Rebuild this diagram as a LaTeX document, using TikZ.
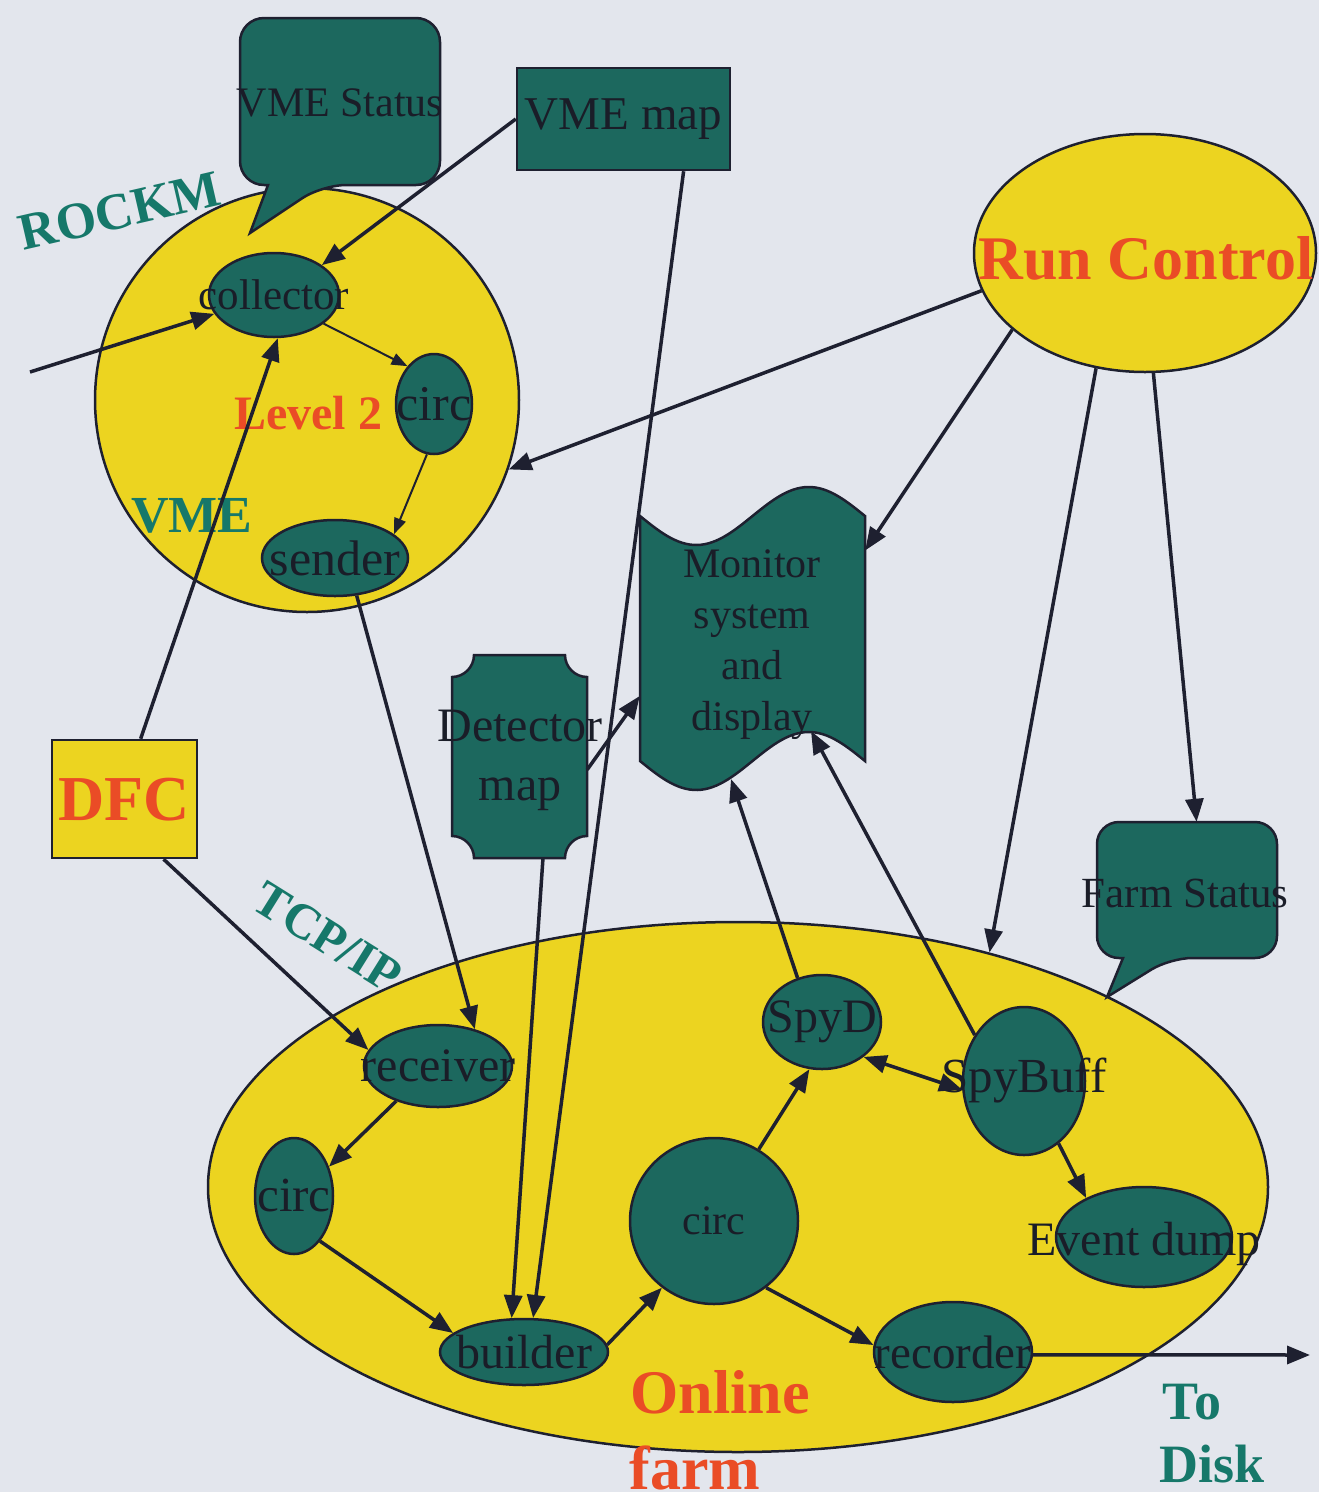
\documentclass[tikz,border=0pt]{standalone}
\usepackage{fontspec}
\setmainfont{Liberation Serif}
\usetikzlibrary{arrows.meta,shapes.geometric,calc}
\definecolor{bg}{HTML}{E3E6ED}
\definecolor{yel}{HTML}{ECD420}
\definecolor{tealf}{HTML}{1C685E}
\definecolor{ink}{HTML}{1E2030}
\definecolor{redt}{HTML}{EA4C26}
\definecolor{tealt}{HTML}{16786A}
\definecolor{txt}{HTML}{1A1D28}
\newcommand{\myfs}[1]{\fontsize{#1}{#1}\selectfont}
\begin{document}
\begin{tikzpicture}[x=1pt,y=-1pt,
  yelnode/.style={ellipse,draw=ink,line width=2.5pt,fill=yel,inner sep=0pt},
  tnode/.style={ellipse,draw=ink,line width=2.5pt,fill=tealf,inner sep=0pt},
  tshape/.style={draw=ink,line width=2.5pt,fill=tealf},
  lbl/.style={text=txt,inner sep=0pt},
  redlbl/.style={text=redt,inner sep=0pt,font=\bfseries},
  teallbl/.style={text=tealt,inner sep=0pt,font=\bfseries},
  anchorbox/.style={rectangle,inner sep=0pt,draw=none},
  conn/.style={draw=ink,line width=3.5pt,-{Triangle[length=23pt,width=18pt]}},
  dbl/.style={draw=ink,line width=3.5pt,{Triangle[length=23pt,width=18pt]}-{Triangle[length=23pt,width=18pt]}},
  thinconn/.style={draw=ink,line width=2pt,-{Triangle[length=16pt,width=12pt]}}
]
\useasboundingbox (0,0) rectangle (1319,1492);
\fill[bg] (0,0) rectangle (1319,1492);

% big yellow containers
\node[yelnode,minimum width=424pt,minimum height=424pt] (level2) at (307,400) {};
\node[yelnode,minimum width=1060pt,minimum height=530pt] (farm) at (738,1187) {};
\node[yelnode,minimum width=342pt,minimum height=238pt] (runctl) at (1145,253) {};
\node[redlbl,font=\bfseries\myfs{62}] (runctltxt) at (1146,258) {Run Control};

% DFC
\node[rectangle,draw=ink,line width=2.5pt,fill=yel,inner sep=0pt,minimum width=145pt,minimum height=118pt] (dfc) at (124.5,799) {};
\node[redlbl,font=\bfseries\myfs{64}] (dfctxt) at (124,800) {DFC};

% VME Status callout
\draw[tshape,rounded corners=24pt] (240,100) -- (240,18) -- (440,18) -- (440,185) -- (322,185) [sharp corners] -- (250,233) -- (268,185) [rounded corners=24pt] -- (240,185) -- cycle;
\node[anchorbox,minimum width=200pt,minimum height=167pt] (vmestatus) at (340,101.5) {};
\node[lbl,font=\myfs{42}] (vmestatustxt) at (340,103) {VME Status};

% Farm Status callout
\draw[tshape,rounded corners=22pt] (1097,890) -- (1097,822) -- (1277,822) -- (1277,958) -- (1170,958) [sharp corners] -- (1107,997) -- (1123,958) [rounded corners=22pt] -- (1097,958) -- cycle;
\node[anchorbox,minimum width=180pt,minimum height=136pt] (farmstatus) at (1187,890) {};
\node[lbl,font=\myfs{43}] (farmstatustxt) at (1185,893) {Farm Status};

% VME map
\node[rectangle,tshape,inner sep=0pt,minimum width=213pt,minimum height=102pt,label={[lbl,font=\myfs{47}]center:VME map}] (vmemap) at (623.5,119) {};

% Detector map (concave corners)
\draw[tshape] (474,655) -- (565,655) .. controls (565,667) and (575,677) .. (587,677)
  -- (587,836) .. controls (575,836) and (565,846) .. (565,858)
  -- (474,858) .. controls (474,846) and (464,836) .. (452,836)
  -- (452,677) .. controls (464,677) and (474,667) .. (474,655) -- cycle;
\node[anchorbox,minimum width=135pt,minimum height=203pt] (detector) at (519.5,756.5) {};
\node[lbl,align=center,font=\fontsize{48}{59}\selectfont] (detectortxt) at (520,760) {Detector\\map};

% Monitor system and display (punched tape)
\draw[tshape] plot[domain=640:865,samples=60] (\x,{516+29*sin(1.6*(\x-640))})
  -- plot[domain=865:640,samples=60] (\x,{761+29*sin(1.6*(\x-640))}) -- cycle;
\node[anchorbox,minimum width=225pt,minimum height=245pt] (monitor) at (752.5,638.5) {};
\node[lbl,align=center,font=\fontsize{42}{51}\selectfont] (monitortxt) at (752,645) {Monitor\\system\\and\\display};
\coordinate (monspyd) at (731,779);
\coordinate (monspybuff) at (811,731);

% Level 2 inner nodes
\node[tnode,minimum width=130pt,minimum height=84pt,label={[lbl,font=\myfs{43}]center:collector}] (collector) at (274,295) {};
\node[tnode,minimum width=76pt,minimum height=100pt,label={[lbl,font=\myfs{50}]center:circ}] (circA) at (434,404) {};
\node[tnode,minimum width=146pt,minimum height=76pt,label={[lbl,font=\myfs{50}]center:sender}] (sender) at (335,558) {};

% Online farm inner nodes
\node[tnode,minimum width=148pt,minimum height=82pt,label={[lbl,font=\myfs{48}]center:receiver}] (receiver) at (438,1066) {};
\node[tnode,minimum width=78pt,minimum height=116pt,label={[lbl,font=\myfs{49}]center:circ}] (circB) at (294,1196) {};
\node[tnode,minimum width=168pt,minimum height=66pt,label={[lbl,font=\myfs{48}]center:builder}] (builder) at (524,1352) {};
\node[tnode,minimum width=168pt,minimum height=166pt,label={[lbl,font=\myfs{42}]center:circ}] (bigcirc) at (714,1221) {};
\node[tnode,minimum width=118pt,minimum height=94pt,label={[lbl,font=\myfs{48}]center:SpyD}] (spyd) at (822,1022) {};
\node[tnode,minimum width=122pt,minimum height=148pt,label={[lbl,font=\myfs{49}]center:SpyBuff}] (spybuff) at (1024,1081) {};
\node[tnode,minimum width=176pt,minimum height=100pt,label={[lbl,font=\myfs{48},yshift=-7pt]center:Event dump}] (eventdump) at (1144,1237) {};
\node[tnode,minimum width=158pt,minimum height=100pt,label={[lbl,font=\myfs{47}]center:recorder}] (recorder) at (953,1352) {};

% free labels
\node[redlbl,font=\bfseries\myfs{48}] (level2txt) at (308,413) {Level 2};
\node[teallbl,font=\bfseries\myfs{52}] (vmetxt) at (192,516) {VME};
\node[teallbl,font=\bfseries\myfs{52},rotate=13] (rockm) at (120,211) {ROCKM};
\node[teallbl,font=\bfseries\myfs{50},rotate=-32] (tcpip) at (328,937) {TCP/IP};
\node[redlbl,font=\bfseries\myfs{62}] (online) at (720,1392) {Online};
\node[redlbl,font=\bfseries\myfs{62}] (farmtxt) at (695,1468) {farm};
\node[teallbl,font=\bfseries\myfs{54}] (to) at (1192,1402) {To};
\node[teallbl,font=\bfseries\myfs{54}] (disk) at (1212,1464) {Disk};

% connectors
\coordinate (inp) at (30,372);
\coordinate (todisk) at (1310,1355);
\draw[conn] (inp) -- (collector);
\draw[conn] (vmemap.west) -- (collector.32);
\draw[thinconn] (collector.-30) -- (circA.125);
\draw[thinconn] (circA.-98) -- (sender.22);
\draw[conn] (dfc.75) -- (collector.-85);
\draw[conn] (runctl.193) -- (level2.-19);
\draw[conn] (runctl.210) -- (monitor.38);
\draw[conn] (runctl.247) -- (farm.43.5);
\draw[conn] (runctl.-86) -- (farmstatus.82);
\draw[conn] (vmemap.-41) -- (builder.75);
\draw[conn] (detector.-77.5) -- (builder.110);
\draw[conn] (sender.-60) -- (receiver.45);
\draw[conn] (dfc.-57) -- (receiver.167);
\draw[conn] (detector.-11) -- (monitor.207);
\draw[conn] (receiver.220) -- (circB.40);
\draw[conn] (circB.-60) -- (builder.165);
\draw[conn] (builder.5) -- (bigcirc.232);
\draw[conn] (bigcirc.58) -- (spyd.255);
\draw[conn] (bigcirc.-52) -- (recorder.175);
\draw[dbl] (spyd.-40) -- (spybuff.188);
\draw[conn] (spyd.119) -- (monspyd);
\draw[conn] (spybuff.137) -- (monspybuff);
\draw[conn] (spybuff.-61) -- (eventdump.146);
\draw[conn] (recorder.-2) -- (todisk);
\end{tikzpicture}
\end{document}
